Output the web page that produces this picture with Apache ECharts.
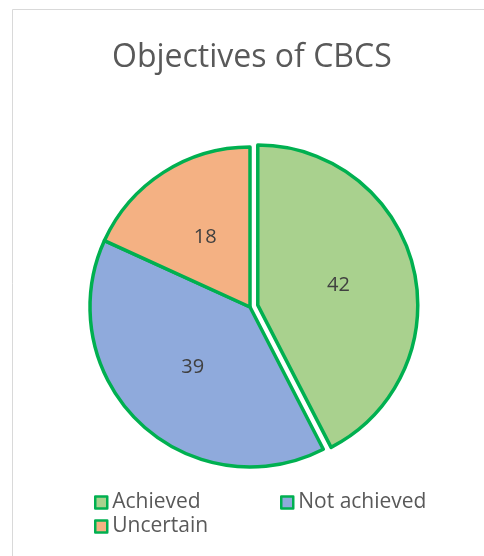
<!DOCTYPE html>
<html><head><meta charset="utf-8">
<script src="https://cdn.jsdelivr.net/npm/echarts@6/dist/echarts.min.js"></script>
<style>html,body{margin:0;padding:0;background:#fff}#c{width:484px;height:556px}</style>
</head><body><div id="c"></div>
<script>
const categories = ['Achieved', 'Not achieved', 'Uncertain'];
const values = [42, 39, 18];
const colors = ['#A9D18E', '#8FAADC', '#F4B183'];
const titleText = 'Objectives of CBCS';

const chart = echarts.init(document.getElementById('c'), null, {renderer: 'canvas'});
const FONT = 'Open Sans';
const legendText = {color: '#595959', fontSize: 21, fontFamily: FONT};
const legendIcon = {borderColor: '#00B050', borderWidth: 2.5};
chart.setOption({
  animation: false,
  backgroundColor: '#fff',
  graphic: [{type: 'rect', shape: {x: 12.5, y: 9.5, width: 520, height: 600}, style: {fill: 'none', stroke: '#d9d9d9', lineWidth: 1}}],
  title: {text: titleText, left: 107, top: 37, textStyle: {color: '#595959', fontSize: 32, fontWeight: 'normal', fontFamily: FONT}},
  legend: [
    {data: [categories[0], categories[2]], orient: 'vertical', left: 89, top: 487, itemWidth: 12, itemHeight: 12, itemGap: 3, icon: 'rect', textStyle: legendText, itemStyle: legendIcon, selectedMode: false},
    {data: [categories[1]], orient: 'vertical', left: 275, top: 487, itemWidth: 12, itemHeight: 12, itemGap: 3, icon: 'rect', textStyle: legendText, itemStyle: legendIcon, selectedMode: false}
  ],
  series: [{
    type: 'pie',
    center: [250, 307],
    radius: 160,
    startAngle: 90,
    clockwise: true,
    selectedMode: 'multiple',
    selectedOffset: 8,
    itemStyle: {borderColor: '#00B050', borderWidth: 3.5},
    select: {itemStyle: {borderColor: '#00B050', borderWidth: 3.5}},
    emphasis: {disabled: true},
    label: {show: true, position: 'inside', formatter: '{c}', color: '#404040', fontSize: 20, fontFamily: FONT},
    labelLine: {show: false},
    data: categories.map((n, i) => ({name: n, value: values[i], selected: i === 0, itemStyle: {color: colors[i]}}))
  }]
});
</script></body></html>
